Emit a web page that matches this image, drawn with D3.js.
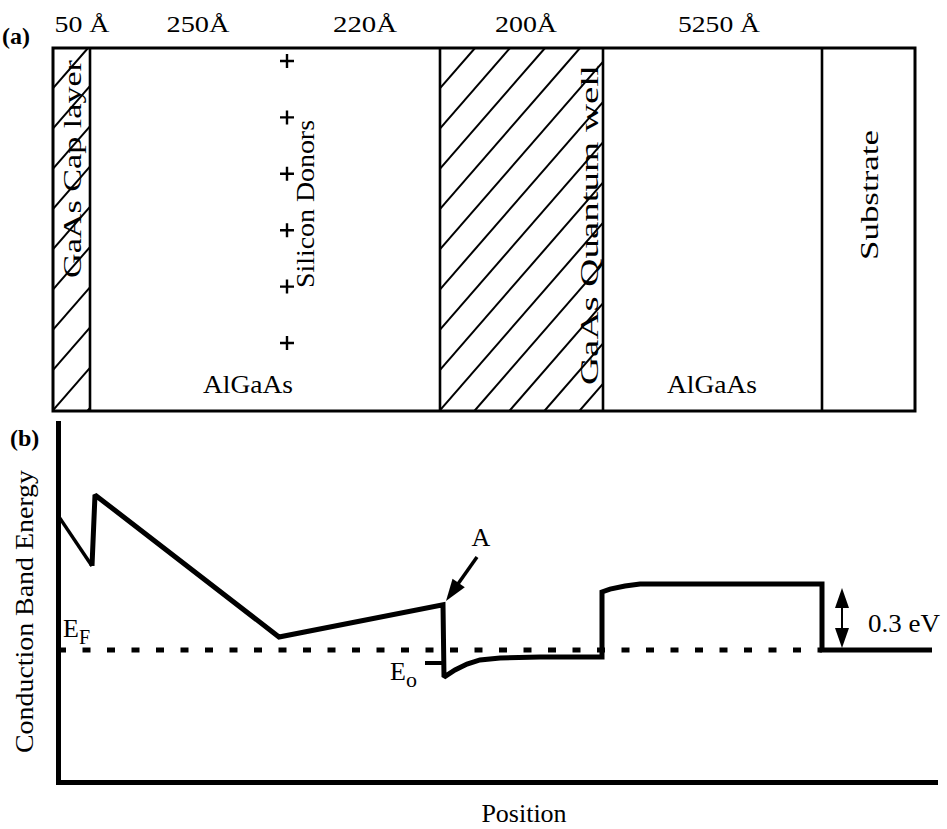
<!DOCTYPE html>
<html><head><meta charset="utf-8">
<script src="https://cdn.jsdelivr.net/npm/d3@7"></script>
<style>
body{margin:0;background:#fff}
text{font-family:"Liberation Serif","Times New Roman",serif;fill:#000}
</style>
</head><body><svg id="c" width="947" height="829"></svg>
<script>
// ---- data (position units are arbitrary, not to scale) ----
const layerNames    = ["GaAs Cap layer", "AlGaAs", "GaAs Quantum well", "AlGaAs", "Substrate"];
const layerStart    = [-5, 32, 382, 545, 764];
const layerEnd      = [32, 382, 545, 764, 857];
const layerHatched  = [true, false, true, false, false];
const thicknessLabels = ["50 Å", "250Å", "220Å", "200Å", "5250 Å"];
const thicknessAt     = [24, 140, 307, 468, 661];
const donorLabel = "Silicon Donors";
const donorAt = 229;
const donorCount = 6;

// conduction band profile: position, energy (eV relative to E_F)
const bandPos    = [1, 34, 37, 221, 385, 386, 397, 409, 422, 442, 482, 544, 544, 552, 567, 582, 764, 764, 874];
const bandEnergy = [0.605, 0.382, 0.705, 0.059, 0.205, -0.123, -0.091, -0.064, -0.045, -0.036, -0.032, -0.032, 0.264, 0.277, 0.291, 0.300, 0.300, 0, 0];
const fermiEnergy = 0;
const fermiRange  = [0, 764];
const groundEnergy = -0.059;
const groundRange  = [367, 385];
const barrierHeight = 0.3;
const barrierAt = 784;

// ---- drawing ----
const svg = d3.select("#c");
const x = d3.scaleLinear().domain([0, 877]).range([58, 935]);
const y = d3.scaleLinear().domain([-0.6, 1.0318]).range([782, 423]);
const top0 = 48, top1 = 411;

// top panel: hatching
const defs = svg.append("defs");
layerNames.forEach((n, i) => {
  if (!layerHatched[i]) return;
  const x0 = x(layerStart[i]), x1 = x(layerEnd[i]);
  defs.append("clipPath").attr("id", "clip" + i)
    .append("rect").attr("x", x0).attr("y", top0).attr("width", x1 - x0).attr("height", top1 - top0);
  const g = svg.append("g").attr("clip-path", `url(#clip${i})`);
  const period = 35, slope = 1.15, H = top1 - top0;
  const starts = d3.range(x0 - H / slope - period, x1 + period, period);
  g.selectAll("line").data(starts).join("line")
    .attr("x1", d => d).attr("y1", top1)
    .attr("x2", d => d + H / slope).attr("y2", top0)
    .attr("stroke", "#000").attr("stroke-width", 2);
});

// top panel: outline and dividers
svg.append("rect").attr("x", x(layerStart[0])).attr("y", top0)
  .attr("width", x(layerEnd[layerEnd.length - 1]) - x(layerStart[0])).attr("height", top1 - top0)
  .attr("fill", "none").attr("stroke", "#000").attr("stroke-width", 3);
svg.selectAll("line.div").data(layerEnd.slice(0, -1)).join("line").attr("class", "div")
  .attr("x1", d => x(d)).attr("x2", d => x(d)).attr("y1", top0).attr("y2", top1)
  .attr("stroke", "#000").attr("stroke-width", 2.6);

// thickness labels
svg.selectAll("text.th").data(thicknessLabels).join("text").attr("class", "th")
  .attr("x", (d, i) => x(thicknessAt[i])).attr("y", 32)
  .attr("text-anchor", "middle").attr("font-size", 24)
  .attr("textLength", (d, i) => [55, 63, 64, 62, 82][i]).attr("lengthAdjust", "spacingAndGlyphs")
  .text(d => d);

svg.append("text").attr("x", 2).attr("y", 44).attr("font-size", 24).attr("font-weight", "bold").text("(a)");

// donors
const plusY = d3.range(donorCount).map(i => 61 + i * 56.4);
plusY.forEach(py => {
  const px = x(donorAt);
  svg.append("path").attr("d", `M${px - 7},${py}H${px + 7}M${px},${py - 7}V${py + 7}`)
    .attr("stroke", "#000").attr("stroke-width", 2.4);
});

// rotated labels
function vtext(txt, bx, startY, len, fs) {
  svg.append("text").attr("transform", `translate(${bx},${startY}) rotate(-90)`)
    .attr("font-size", fs).attr("textLength", len).attr("lengthAdjust", "spacingAndGlyphs").text(txt);
}
vtext(layerNames[0], 81, 278, 218, 26);
vtext(donorLabel, 314, 288, 168, 25);
vtext(layerNames[2], 598, 385, 320, 26);
vtext(layerNames[4], 878, 260, 130, 25);

// horizontal layer labels
svg.append("text").attr("x", 248).attr("y", 393).attr("text-anchor", "middle").attr("font-size", 26)
  .attr("textLength", 90).attr("lengthAdjust", "spacingAndGlyphs").text(layerNames[1]);
svg.append("text").attr("x", 712).attr("y", 393).attr("text-anchor", "middle").attr("font-size", 26)
  .attr("textLength", 90).attr("lengthAdjust", "spacingAndGlyphs").text(layerNames[3]);

// bottom panel axes
svg.append("g").attr("transform", `translate(0,${y.range()[0]})`)
  .call(d3.axisBottom(x).tickValues([]).tickSizeOuter(0));
svg.append("g").attr("transform", `translate(${x.range()[0]},0)`)
  .call(d3.axisLeft(y).tickValues([]).tickSizeOuter(0));
svg.selectAll(".domain").attr("stroke", "#000").attr("stroke-width", 5).attr("stroke-linecap", "square");

svg.append("text").attr("x", 10).attr("y", 446).attr("font-size", 24).attr("font-weight", "bold").text("(b)");
svg.append("text").attr("transform", `translate(33,753) rotate(-90)`).attr("font-size", 26)
  .attr("textLength", 283).attr("lengthAdjust", "spacingAndGlyphs").text("Conduction Band Energy");
svg.append("text").attr("x", 524).attr("y", 822).attr("text-anchor", "middle").attr("font-size", 26).text("Position");

// Fermi level
svg.append("line").attr("x1", x(fermiRange[0])).attr("x2", x(fermiRange[1]))
  .attr("y1", y(fermiEnergy)).attr("y2", y(fermiEnergy))
  .attr("stroke", "#000").attr("stroke-width", 5).attr("stroke-dasharray", "8,16.5");
const ef = svg.append("text").attr("x", 63).attr("y", 637).attr("font-size", 26);
ef.append("tspan").text("E");
ef.append("tspan").attr("dy", 7).attr("font-size", 20).text("F");

// band
const line = d3.line().x(d => x(d[0])).y(d => y(d[1]));
const bandPts = d3.zip(bandPos, bandEnergy);
svg.append("path").attr("d", line(bandPts.slice(0, 2)))
  .attr("fill", "none").attr("stroke", "#000").attr("stroke-width", 3.5);
svg.append("path").attr("d", line(bandPts.slice(1)))
  .attr("fill", "none").attr("stroke", "#000").attr("stroke-width", 5)
  .attr("stroke-linejoin", "miter").attr("stroke-miterlimit", 2);

// ground state
svg.append("line").attr("x1", x(groundRange[0])).attr("x2", x(groundRange[1]))
  .attr("y1", y(groundEnergy)).attr("y2", y(groundEnergy))
  .attr("stroke", "#000").attr("stroke-width", 4);
const eo = svg.append("text").attr("x", 390).attr("y", 680).attr("font-size", 26);
eo.append("tspan").text("E");
eo.append("tspan").attr("dy", 7).attr("font-size", 22).text("o");

// arrow A
function arrowHead(tx, ty, ux, uy, len, hw) {
  const bx = tx - ux * len, by = ty - uy * len;
  return `M${tx},${ty}L${bx + uy * hw},${by - ux * hw}L${bx - uy * hw},${by + ux * hw}Z`;
}
{
  const tailX = x(419), tailY = y(0.423), tipX = x(388), tipY = y(0.223);
  const dx = tipX - tailX, dy = tipY - tailY, L = Math.hypot(dx, dy);
  const ux = dx / L, uy = dy / L;
  svg.append("line").attr("x1", tailX).attr("y1", tailY).attr("x2", tipX - ux * 10).attr("y2", tipY - uy * 10)
    .attr("stroke", "#000").attr("stroke-width", 3.5);
  svg.append("path").attr("d", arrowHead(tipX, tipY, ux, uy, 22, 7.5)).attr("fill", "#000");
  svg.append("text").attr("x", 481).attr("y", 546).attr("text-anchor", "middle").attr("font-size", 26).text("A");
}

// barrier height double arrow
{
  const ax = x(barrierAt), yt = y(barrierHeight) + 4, yb = y(0) - 2;
  svg.append("line").attr("x1", ax).attr("x2", ax).attr("y1", yt + 10).attr("y2", yb - 10)
    .attr("stroke", "#000").attr("stroke-width", 2);
  svg.append("path").attr("d", arrowHead(ax, yt, 0, -1, 20, 7)).attr("fill", "#000");
  svg.append("path").attr("d", arrowHead(ax, yb, 0, 1, 20, 7)).attr("fill", "#000");
  svg.append("text").attr("x", 868).attr("y", 632).attr("font-size", 26)
    .attr("textLength", 72).attr("lengthAdjust", "spacingAndGlyphs").text(barrierHeight + " eV");
}
</script>
</body></html>
